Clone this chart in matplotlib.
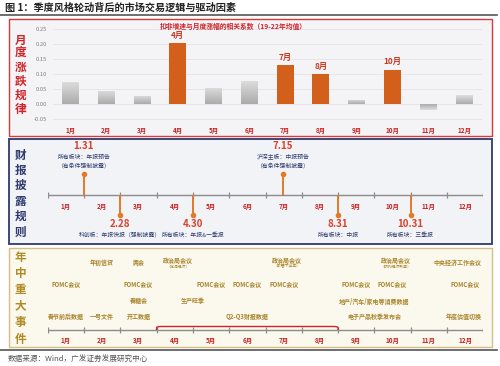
import matplotlib
matplotlib.use('Agg')
import matplotlib.pyplot as plt
import numpy as np
from matplotlib.patches import Rectangle, PathPatch
from matplotlib.path import Path
from matplotlib.colors import LinearSegmentedColormap

plt.rcParams['font.family'] = ['Noto Sans CJK SC', 'DejaVu Sans']

# ---------------- data ----------------
months = [f"{i}月" for i in range(1, 13)]
corr = [0.076, 0.046, 0.028, 0.204, 0.056, 0.077, 0.130, 0.100, 0.015, 0.115, -0.020, 0.030]
highlight = [False, False, False, True, False, False, True, True, False, True, False, False]
yticks = [-0.05, 0.00, 0.05, 0.10, 0.15, 0.20, 0.25]
ytick_labels = ["-0.05", "0.00", "0.05", "0.10", "0.15", "0.20", "0.25"]
legend_text = "扣非增速与月度涨幅的相关系数（19-22年均值）"

disclosure_dates = ["1.31", "2.28", "4.30", "7.15", "8.31", "10.31"]
disclosure_desc = [["所有板块：年报预告", "（有条件强制披露）"],
                   ["科创板：年报快报（强制披露）"],
                   ["所有板块：年报&一季报"],
                   ["沪深主板：中报预告", "（有条件强制披露）"],
                   ["所有板块：中报"],
                   ["所有板块：三季报"]]
disclosure_up = [True, False, False, True, False, False]
days_in_month = [31, 28, 31, 30, 31, 30, 31, 31, 30, 31, 30, 31]

# events: text, position (month units on the timeline), row, subtext
event_text = ["年初信贷", "两会", "政治局会议", "政治局会议", "政治局会议", "中央经济工作会议",
              "FOMC会议", "FOMC会议", "FOMC会议", "FOMC会议", "FOMC会议", "FOMC会议", "FOMC会议", "FOMC会议",
              "春糖会", "生产旺季", "地产/汽车/家电等消费数据",
              "春节前后数据", "一号文件", "开工数据", "电子产品秋季发布会", "年底估值切换"]
event_pos = [1.5, 2.5, 3.6, 6.6, 9.6, 11.3,
             0.5, 2.5, 4.5, 5.5, 6.5, 8.5, 9.5, 11.5,
             2.5, 4.0, 9.0,
             0.5, 1.5, 2.5, 9.0, 11.45]
event_row = [0, 0, 0, 0, 0, 0,
             1, 1, 1, 1, 1, 1, 1, 1,
             2, 2, 2,
             3, 3, 3, 3, 3]
event_sub = ["", "", "（定调经济）", "（部署下半年）", "（研判经济形势）", "",
             "", "", "", "", "", "", "", "",
             "", "", "",
             "", "", "", "", ""]
bracket_label = "Q2-Q3财报数据"
bracket_months = [4, 8]

title = "图 1：季度风格轮动背后的市场交易逻辑与驱动因素"
source = "数据来源：Wind，广发证券发展研究中心"

# ---------------- figure ----------------
W, H = 500, 366
fig = plt.figure(figsize=(W / 100, H / 100), dpi=100)


def px_axes(x0, y0, x1, y1):
    return fig.add_axes([x0 / W, 1 - y1 / H, (x1 - x0) / W, (y1 - y0) / H])


bg = px_axes(0, 0, W, H)
bg.set_xlim(0, W)
bg.set_ylim(H, 0)
bg.axis('off')

RED = '#D0242B'
NAVY = '#2E3A6E'
GOLD = '#B08A22'
ORANGE = '#D2601A'
MONTH_RED = '#C8201E'

# title + lines
bg.text(5, 7.5, title, fontsize=7.3, fontweight='bold', color='#222222', va='center', ha='left')
bg.plot([0, 497], [14.5, 14.5], color='#555555', lw=1.2)
bg.plot([0, 497], [350, 350], color='#555555', lw=1.2)
bg.text(8, 359.5, source, fontsize=5.5, color='#555555', va='center', ha='left')

# panels
bg.add_patch(Rectangle((8.5, 18.5), 483, 117.5, facecolor='#F4F4F6', edgecolor='#D9383A', lw=1.0))
bg.add_patch(Rectangle((8.5, 138.5), 483, 105, facecolor='#F2F3F7', edgecolor=NAVY, lw=1.3))
bg.add_patch(Rectangle((8.5, 247.5), 483, 99, facecolor='#FBF8EE', edgecolor='#D3BE86', lw=1.0))

# vertical titles
for i, ch in enumerate("月度涨跌规律"):
    bg.text(20.5, 40 + i * 13.8, ch, fontsize=8.4, fontweight='bold', color=RED, ha='center', va='center')
for i, ch in enumerate("财报披露规则"):
    bg.text(20.5, 155 + i * 15.4, ch, fontsize=8.4, fontweight='bold', color=NAVY, ha='center', va='center')
for i, ch in enumerate("年中重大事件"):
    bg.text(20.5, 257 + i * 16.4, ch, fontsize=8.4, fontweight='bold', color=GOLD, ha='center', va='center')

# ---------------- panel 1: bars ----------------
ax1 = px_axes(52.6, 23.4, 482, 122.4)
ax1.set_facecolor('none')
x = np.arange(1, 13)
bars = ax1.bar(x, corr, width=0.475,
               color=[ORANGE if h else 'none' for h in highlight], zorder=3, lw=0)
ax1.set_xlim(0.5, 12.5)
ax1.set_ylim(-0.06, 0.27)
cmap = LinearSegmentedColormap.from_list('g', ['#ababab', '#dedede'])
grad = np.linspace(0, 1, 64).reshape(-1, 1)
for i, (b, h, v) in enumerate(zip(bars, highlight, corr)):
    if not h:
        x0 = b.get_x()
        x1 = x0 + b.get_width()
        y0 = min(0, v)
        y1 = max(0, v)
        g = grad if v >= 0 else grad[::-1]
        im = ax1.imshow(g, cmap=cmap, extent=(x0, x1, y0, y1), origin='lower',
                        aspect='auto', zorder=3)
        im.set_clip_path(b)
    else:
        ax1.annotate(months[i], (b.get_x() + b.get_width() / 2, v),
                     xytext=(0, 2.5), textcoords='offset points', ha='center', va='bottom',
                     fontsize=6.0, fontweight='bold', color='#C83A22')
ax1.set_xlim(0.5, 12.5)
ax1.set_ylim(-0.06, 0.27)
ax1.set_yticks(yticks)
ax1.set_yticklabels(ytick_labels, fontsize=4.2, color='#808080')
ax1.set_xticks(x)
ax1.set_xticklabels(months, fontsize=4.6, fontweight='bold', color=MONTH_RED)
ax1.tick_params(axis='both', length=0)
ax1.tick_params(axis='y', pad=4)
ax1.tick_params(axis='x', pad=3.0)
ax1.grid(axis='y', color='#E4E4E8', lw=0.6, zorder=0)
for s in ax1.spines.values():
    s.set_visible(False)
ax1.text(0.42, 1.0 - (26 - 23.4) / 99, legend_text, transform=ax1.transAxes,
         fontsize=4.9, fontweight='bold', color=RED, ha='center', va='center')

# ---------------- panel 2: disclosure timeline ----------------
ax2 = px_axes(47.7, 140, 483.3, 243)
ax2.set_xlim(0, 12)
ax2.set_ylim(243, 140)
ax2.axis('off')
AXY = 195
ax2.hlines(AXY, 0, 12, color='#8C8C8C', lw=1.0)
ax2.vlines(np.arange(13), AXY - 3, AXY + 3, color='#8C8C8C', lw=0.9)
for k, m in enumerate(months):
    ax2.text(k + 0.5, 206, m, fontsize=4.6, fontweight='bold', color=MONTH_RED, ha='center', va='center')
STEM = '#E07B28'
for d, desc, up in zip(disclosure_dates, disclosure_desc, disclosure_up):
    mm, dd = [int(s) for s in d.split('.')]
    pos = (mm - 1) + dd / days_in_month[mm - 1]
    if up:
        ax2.plot([pos, pos], [AXY, 174], color=STEM, lw=1.4, solid_capstyle='butt')
        ax2.plot(pos, 174, 'o', color=STEM, ms=3)
        ax2.text(pos, 146, d, fontsize=7, fontweight='bold', color='#D9412A', ha='center', va='center')
        for j, line in enumerate(desc):
            ax2.text(pos, 157 + j * 9, line, fontsize=4.2, color=NAVY, ha='center', va='center')
    else:
        ax2.plot([pos, pos], [AXY, 215], color=STEM, lw=1.4, solid_capstyle='butt')
        ax2.plot(pos, 215, 'o', color=STEM, ms=3)
        ax2.text(pos, 224, d, fontsize=7, fontweight='bold', color='#D9412A', ha='center', va='center')
        for j, line in enumerate(desc):
            ax2.text(pos, 235 + j * 9, line, fontsize=4.2, color=NAVY, ha='center', va='center')

# ---------------- panel 3: events timeline ----------------
ax3 = px_axes(47.7, 248, 483.3, 346)
ax3.set_xlim(0, 12)
ax3.set_ylim(346, 248)
ax3.axis('off')
AXY3 = 330
ax3.hlines(AXY3, 0, 12, color='#8C8C8C', lw=1.0)
ax3.vlines(np.arange(13), AXY3 - 3, AXY3 + 3, color='#8C8C8C', lw=0.9)
for k, m in enumerate(months):
    ax3.text(k + 0.5, 340, m, fontsize=4.6, fontweight='bold', color=MONTH_RED, ha='center', va='center')
row_y = [262, 284, 301, 316]
EVC = '#A8842A'
for t, p, r, sub in zip(event_text, event_pos, event_row, event_sub):
    yy = row_y[r] - (2 if sub else 0)
    ax3.text(p, yy, t, fontsize=4.3, fontweight='bold', color=EVC, ha='center', va='center')
    if sub:
        ax3.text(p, yy + 6.5, sub, fontsize=2.8, color=EVC, ha='center', va='center')

xs, xe = bracket_months[0] - 1, bracket_months[1]
ytop = 326.5
verts = [(xs, AXY3), (xs, ytop + 1.2), (xs, ytop), (xs + 0.12, ytop), (xe - 0.12, ytop),
         (xe, ytop), (xe, ytop + 1.2), (xe, AXY3)]
codes = [Path.MOVETO, Path.LINETO, Path.CURVE3, Path.CURVE3, Path.LINETO,
         Path.CURVE3, Path.CURVE3, Path.LINETO]
ax3.add_patch(PathPatch(Path(verts, codes), facecolor='none', edgecolor=RED, lw=1.0, zorder=4))
ax3.text((xs + xe) / 2, row_y[3], bracket_label, fontsize=4.3, fontweight='bold', color=EVC,
         ha='center', va='center')

fig.savefig('out.png', dpi=100)
